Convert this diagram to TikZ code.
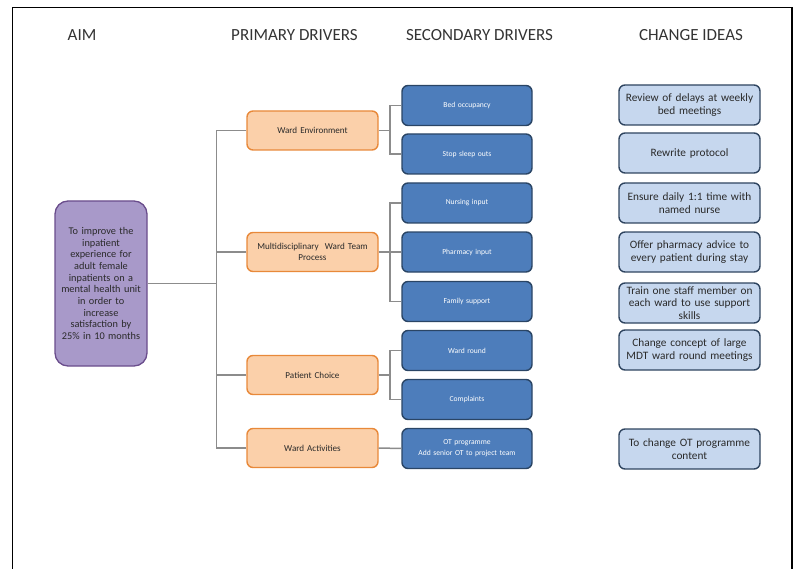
\documentclass[tikz,border=0pt]{standalone}
\usepackage{fontspec}
\setmainfont{Carlito}
\definecolor{conn}{HTML}{8C8C8C}
\definecolor{aimfill}{HTML}{A899C9}
\definecolor{aimdraw}{HTML}{6A4D8C}
\definecolor{prifill}{HTML}{FBD0AA}
\definecolor{pridraw}{HTML}{E8893A}
\definecolor{secfill}{HTML}{4D7DBB}
\definecolor{secdraw}{HTML}{2A4565}
\definecolor{idfill}{HTML}{C6D7EE}
\definecolor{iddraw}{HTML}{2F4560}
\definecolor{txt}{HTML}{2A2A2A}
\definecolor{headtxt}{HTML}{333333}
\tikzset{
  heading/.style={font=\fontsize{17}{19}\selectfont, text=headtxt, anchor=center},
  aimbox/.style={draw=aimdraw, fill=aimfill, line width=1.3pt, rounded corners=13pt, minimum width=92pt, minimum height=165pt, text width=90pt, align=center, inner sep=0pt, text=txt, font=\fontsize{10.3}{11.7}\selectfont},
  pribox/.style={draw=pridraw, fill=prifill, line width=1.4pt, rounded corners=6pt, minimum width=131pt, minimum height=39pt, text width=128pt, align=center, inner sep=0pt, text=txt, font=\fontsize{9.1}{10.5}\selectfont},
  secbox/.style={draw=secdraw, fill=secfill, line width=1.4pt, rounded corners=6pt, minimum width=130pt, minimum height=40pt, text width=128pt, align=center, inner sep=0pt, text=white, font=\fontsize{7.6}{11}\selectfont},
  idbox/.style={draw=iddraw, fill=idfill, line width=1.4pt, rounded corners=6pt, minimum width=141pt, minimum height=40pt, text width=140pt, align=center, inner sep=0pt, text=txt, font=\fontsize{11.3}{12.3}\selectfont},
  link/.style={draw=conn, line width=1.5pt}
}
\begin{document}
\begin{tikzpicture}[x=1pt,y=-1pt]
\useasboundingbox (0,0) rectangle (794,569);
\draw[line width=1.2pt, black] (12.5,569) -- (12.5,7.5) -- (792,7.5) -- (792,569);

\node[heading] (hA) at (82,35) {AIM};
\node[heading] (hP) at (294.5,35) {PRIMARY DRIVERS};
\node[heading] (hS) at (479.5,35) {SECONDARY DRIVERS};
\node[heading] (hC) at (691,35) {CHANGE IDEAS};

\node[aimbox] (aim) at (101,283.5) {To improve the\\inpatient\\experience for\\adult female\\inpatients on a\\mental health unit\\in order to\\increase\\satisfaction by\\25\% in 10 months};

\node[pribox] (pe) at (312.5,130.5) {Ward Environment};
\node[pribox] (pm) at (312.5,252) {Multidisciplinary\ \ Ward Team\\Process};
\node[pribox] (pc) at (312.5,375) {Patient Choice};
\node[pribox] (pa) at (312.5,448) {Ward Activities};

\node[secbox] (s1) at (467,105.5) {Bed occupancy};
\node[secbox] (s2) at (467,154) {Stop sleep outs};
\node[secbox] (s3) at (467,203) {Nursing input};
\node[secbox] (s4) at (467,252) {Pharmacy input};
\node[secbox] (s5) at (467,301.5) {Family support};
\node[secbox] (s6) at (467,350.5) {Ward round};
\node[secbox] (s7) at (467,399.5) {Complaints};
\node[secbox] (s8) at (467,448.5) {OT programme\\Add senior OT to project team};

\node[idbox] (c1) at (689.5,105) {Review of delays at weekly\\bed meetings};
\node[idbox] (c2) at (689.5,153) {Rewrite protocol};
\node[idbox] (c3) at (689.5,203) {Ensure daily 1:1 time with\\named nurse};
\node[idbox] (c4) at (689.5,252) {Offer pharmacy advice to\\every patient during stay};
\node[idbox] (c5) at (689.5,303) {Train one staff member on\\each ward to use support\\skills};
\node[idbox] (c6) at (689.5,350) {Change concept of large\\MDT ward round meetings};
\node[idbox] (c7) at (689.5,449) {To change OT programme\\content};

\coordinate (tk) at (216.7,0);
\coordinate (bk) at (390,0);

\draw[link] (aim.east) -- (aim.east -| tk);
\draw[link] (pe.west) -- (pe.west -| tk) |- (pa.west);
\draw[link] (pm.west) -- (pm.west -| tk);
\draw[link] (pc.west) -- (pc.west -| tk);

\draw[link] (pe.east) -- (pe.east -| bk);
\draw[link] (s1.west) -- (s1.west -| bk) |- (s2.west);
\draw[link] (pm.east) -- (pm.east -| bk);
\draw[link] (s3.west) -- (s3.west -| bk) |- (s5.west);
\draw[link] (s4.west) -- (s4.west -| bk);
\draw[link] (pc.east) -- (pc.east -| bk);
\draw[link] (s6.west) -- (s6.west -| bk) |- (s7.west);
\draw[link] (pa.east) -- (s8.west);
\end{tikzpicture}
\end{document}
